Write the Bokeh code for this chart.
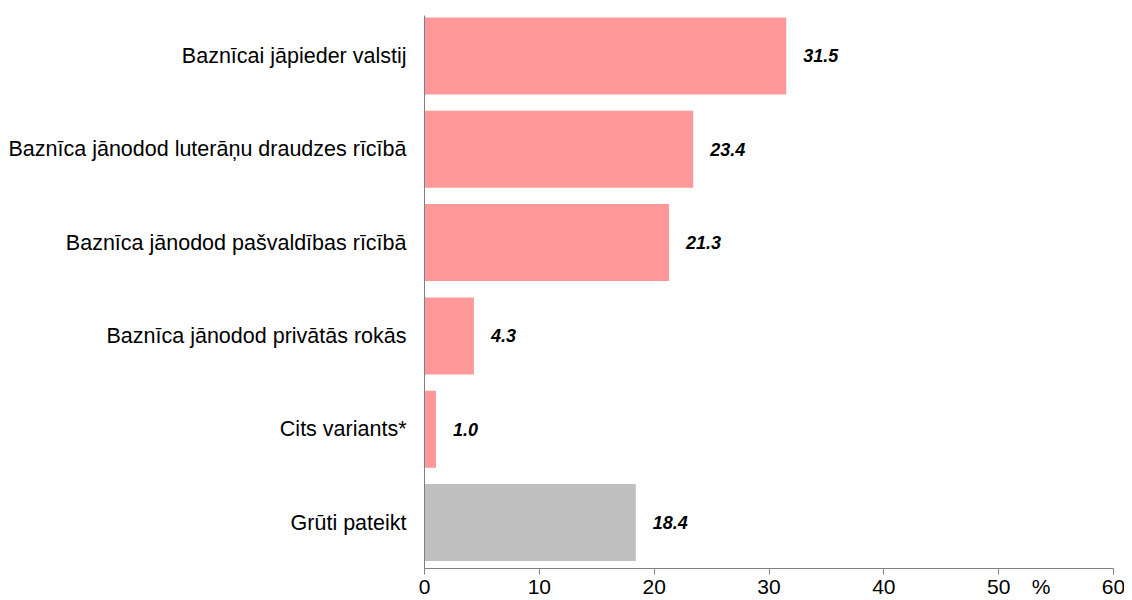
from bokeh.plotting import figure
from bokeh.models import Range1d, ColumnDataSource, FixedTicker, LinearAxis
from bokeh.core.properties import value
from bokeh.embed import file_html
from bokeh.resources import INLINE

categories = [
    "Baznīcai jāpieder valstij",
    "Baznīca jānodod luterāņu draudzes rīcībā",
    "Baznīca jānodod pašvaldības rīcībā",
    "Baznīca jānodod privātās rokās",
    "Cits variants*",
    "Grūti pateikt",
]
values = [31.5, 23.4, 21.3, 4.3, 1.0, 18.4]
colors = ["#FF9999", "#FF9999", "#FF9999", "#FF9999", "#FF9999", "#C0C0C0"]
x_ticks = [0, 10, 20, 30, 40, 50, 60]
unit_label = "%"
unit_label_x = 53.7

FONT = "Liberation Sans"
positions = list(range(len(categories)))

src = ColumnDataSource(dict(
    y=positions,
    v=values,
    c=colors,
    t=[f"{v:.1f}" for v in values],
))

p = figure(
    width=1124, height=600,
    x_range=Range1d(0, 60), y_range=Range1d(5.493, -0.434),
    output_backend="svg", toolbar_location=None,
    x_axis_location=None,
    min_border_left=424, min_border_right=11,
    min_border_top=15, min_border_bottom=32,
)
p.outline_line_color = None
p.xgrid.visible = False
p.ygrid.visible = False

p.hbar(y="y", left=0, right="v", height=0.825, fill_color="c",
       line_color=None, source=src)
p.text(x="v", y="y", text="t", source=src, x_offset=17,
       text_align="left", text_baseline="middle",
       text_font=value(FONT), text_font_style="bold italic",
       text_font_size="18px", text_color="#000000")

# x axis: line and tick marks
xa = LinearAxis(ticker=FixedTicker(ticks=x_ticks))
xa.axis_line_color = "#808080"
xa.major_tick_line_color = "#808080"
xa.major_tick_out = 6
xa.major_tick_in = 0
xa.minor_tick_line_color = None
xa.major_label_overrides = {t: "" for t in x_ticks}
xa.major_label_text_font_size = "1px"
xa.major_label_standoff = 0
p.add_layout(xa, "below")

# x axis labels (numbers and unit)
xl = LinearAxis(ticker=FixedTicker(ticks=x_ticks + [unit_label_x]))
overrides = {t: str(t) for t in x_ticks}
overrides[unit_label_x] = unit_label
xl.major_label_overrides = overrides
xl.axis_line_color = None
xl.major_tick_line_color = None
xl.major_tick_out = 0
xl.major_tick_in = 0
xl.minor_tick_line_color = None
xl.major_label_text_font = FONT
xl.major_label_text_font_size = "21px"
xl.major_label_text_color = "#000000"
xl.major_label_standoff = 0
p.add_layout(xl, "below")

# y axis
ya = p.yaxis[0]
ya.ticker = FixedTicker(ticks=positions)
ya.major_label_overrides = {i: c for i, c in zip(positions, categories)}
ya.axis_line_color = "#808080"
ya.major_tick_line_color = None
ya.major_tick_out = 0
ya.major_tick_in = 0
ya.minor_tick_line_color = None
ya.major_label_text_font = FONT
ya.major_label_text_font_size = "21.5px"
ya.major_label_text_color = "#000000"
ya.major_label_standoff = 18

open("out.html", "w").write(file_html(p, INLINE))
